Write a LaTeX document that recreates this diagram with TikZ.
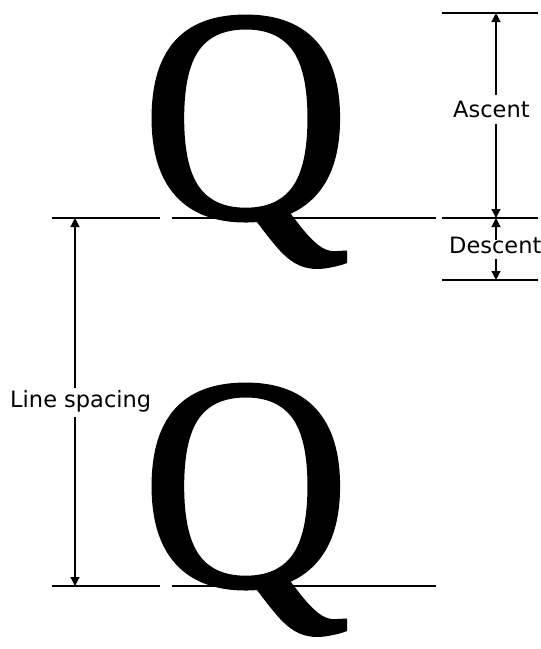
\documentclass[tikz,border=0pt]{standalone}
\usepackage{fontspec}
\setmainfont{Liberation Serif}
\newfontfamily\qfont[FakeBold=1,FakeStretch=0.95]{Liberation Serif}
\newfontfamily\labelfont{DejaVu Sans}
\usetikzlibrary{arrows.meta}
\begin{document}
\begin{tikzpicture}[x=1pt,y=-1pt,
  rule/.style={line width=1.2pt},
  dim/.style={line width=1.2pt,-{Triangle[length=9pt,width=9pt]}},
  lbl/.style={font=\labelfont\fontsize{22.5}{22.5}\selectfont,inner sep=0pt,anchor=base west},
  glyph/.style={font=\qfont\fontsize{305}{305}\selectfont,inner sep=0pt,anchor=base west}]
\useasboundingbox[fill=white] (0,0) rectangle (541,649);
% glyphs
\node[glyph] (q1) at (141,218) {Q};
\node[glyph] (q2) at (141,586) {Q};
% rules
\coordinate (t1) at (442,13);   \coordinate (t2) at (538,13);
\coordinate (b1a) at (52,218);  \coordinate (b1b) at (160,218);
\coordinate (b1c) at (172,218); \coordinate (b1d) at (436,218);
\coordinate (b1e) at (442,218); \coordinate (b1f) at (538,218);
\coordinate (d1) at (442,280);  \coordinate (d2) at (538,280);
\coordinate (b2a) at (52,586);  \coordinate (b2b) at (160,586);
\coordinate (b2c) at (172,586); \coordinate (b2d) at (436,586);
\draw[rule] (t1) -- (t2);
\draw[rule] (b1a) -- (b1b);
\draw[rule] (b1c) -- (b1d);
\draw[rule] (b1e) -- (b1f);
\draw[rule] (d1) -- (d2);
\draw[rule] (b2a) -- (b2b);
\draw[rule] (b2c) -- (b2d);
% labels
\node[lbl] (asc) at (453,117) {Ascent};
\node[lbl] (desc) at (449,253) {Descent};
\node[lbl] (ls) at (10,407) {Line spacing};
% arrow endpoints
\coordinate (ascTop) at (496,13);
\coordinate (ascBot) at (496,218);
\coordinate (ascS1) at (496,95);
\coordinate (ascS2) at (496,124);
\coordinate (desTop) at (496,218);
\coordinate (desBot) at (496,280);
\coordinate (desS1) at (496,240);
\coordinate (desS2) at (496,259);
\coordinate (lsTop) at (75,218);
\coordinate (lsBot) at (75,586);
\coordinate (lsS1) at (75,388);
\coordinate (lsS2) at (75,417);
\draw[dim] (ascS1) -- (ascTop);
\draw[dim] (ascS2) -- (ascBot);
\draw[dim] (desS1) -- (desTop);
\draw[dim] (desS2) -- (desBot);
\draw[dim] (lsS1) -- (lsTop);
\draw[dim] (lsS2) -- (lsBot);
\end{tikzpicture}
\end{document}
